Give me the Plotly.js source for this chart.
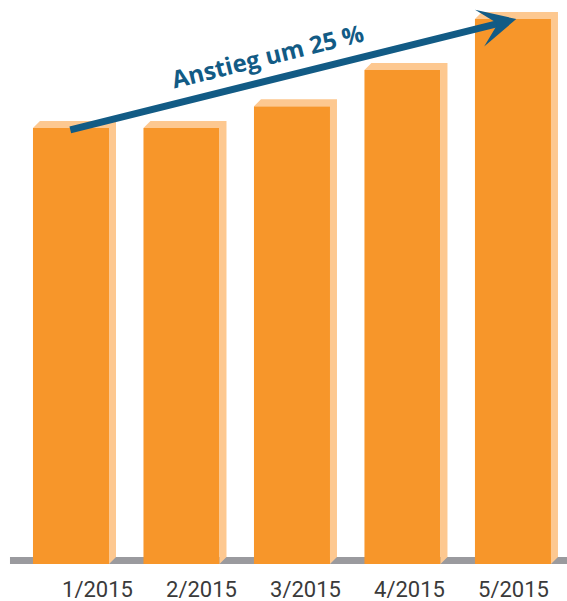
<!DOCTYPE html>
<html>
<head>
<meta charset="utf-8">
<script src="https://cdn.plot.ly/plotly-3.0.1.min.js"></script>
<style>html,body{margin:0;padding:0;background:#fff;}#chart{width:567px;height:601px;}</style>
</head>
<body>
<div id="chart"></div>
<script>
// Data
const categories = ["1/2015", "2/2015", "3/2015", "4/2015", "5/2015"];
const values = [100, 100, 105, 113.3, 125];
const arrowLabel = "Anstieg um 25 %";

// Styles
const FRONT = "#F7962A";
const LIGHT = "#FDC890";
const BLUE = "#125B85";
const GREY = "#9A9A9E";

const idx = categories.map((c, i) => i);
const barWidth = 0.688;
const dx = 0.0633;   // depth in x units
const dy = 1.6;      // depth in y units

const traces = [];
// 3D top/side faces as filled polygons
idx.forEach(i => {
  const v = values[i];
  const x0 = i - barWidth / 2, x1 = i + barWidth / 2;
  traces.push({
    type: "scatter", mode: "lines", fill: "toself",
    x: [x0, x0 + dx, x1 + dx, x1 + dx, x1, x1, x0],
    y: [v, v + dy, v + dy, dy, 0, v, v],
    fillcolor: LIGHT, line: {width: 0, color: LIGHT},
    hoverinfo: "skip", showlegend: false
  });
});
// Front faces
traces.push({
  type: "bar", x: idx, y: values, width: barWidth,
  marker: {color: FRONT, line: {width: 0}},
  hoverinfo: "skip", showlegend: false
});
// Invisible trace for label axis
traces.push({
  type: "scatter", mode: "markers", x: idx, y: idx.map(() => 0),
  xaxis: "x2", marker: {opacity: 0}, hoverinfo: "skip", showlegend: false
});

const layout = {
  width: 567, height: 601,
  margin: {l: 0, r: 0, t: 0, b: 37, pad: 0},
  paper_bgcolor: "#fff", plot_bgcolor: "#fff",
  showlegend: false,
  barmode: "overlay",
  xaxis: {range: [-0.6425, 4.489], showticklabels: false, showgrid: false,
          zeroline: false, showline: false, ticks: "", fixedrange: true},
  xaxis2: {overlaying: "x", anchor: "y", side: "bottom",
           range: [-0.9375, 4.5144], tickvals: idx, ticktext: categories,
           ticks: "outside", ticklen: 6, tickcolor: "rgba(0,0,0,0)",
           showgrid: false, zeroline: false, showline: false,
           tickfont: {family: "Roboto, sans-serif", size: 22, color: "#3a3a3a"}},
  yaxis: {range: [0, 129.36], visible: false, showgrid: false, zeroline: false, fixedrange: true},
  shapes: [{
    type: "rect", layer: "below", xref: "paper", yref: "y",
    x0: 0.0176, x1: 1, y0: 0, y1: dy,
    fillcolor: GREY, line: {width: 0}
  }],
  annotations: [
    {
      x: 4.03, y: values[4], xref: "x", yref: "y",
      ax: -0.02, ay: values[0] - 0.5, axref: "x", ayref: "y",
      showarrow: true, arrowhead: 3, arrowwidth: 7, arrowsize: 0.9,
      arrowcolor: BLUE, text: ""
    },
    {
      x: 1.78, y: 116.7, xref: "x", yref: "y",
      text: "<b>" + arrowLabel + "</b>", showarrow: false, textangle: -14,
      font: {family: "Open Sans, sans-serif", size: 24, color: BLUE}
    }
  ]
};

Plotly.newPlot("chart", traces, layout, {displayModeBar: false, staticPlot: true});
</script>
</body>
</html>
